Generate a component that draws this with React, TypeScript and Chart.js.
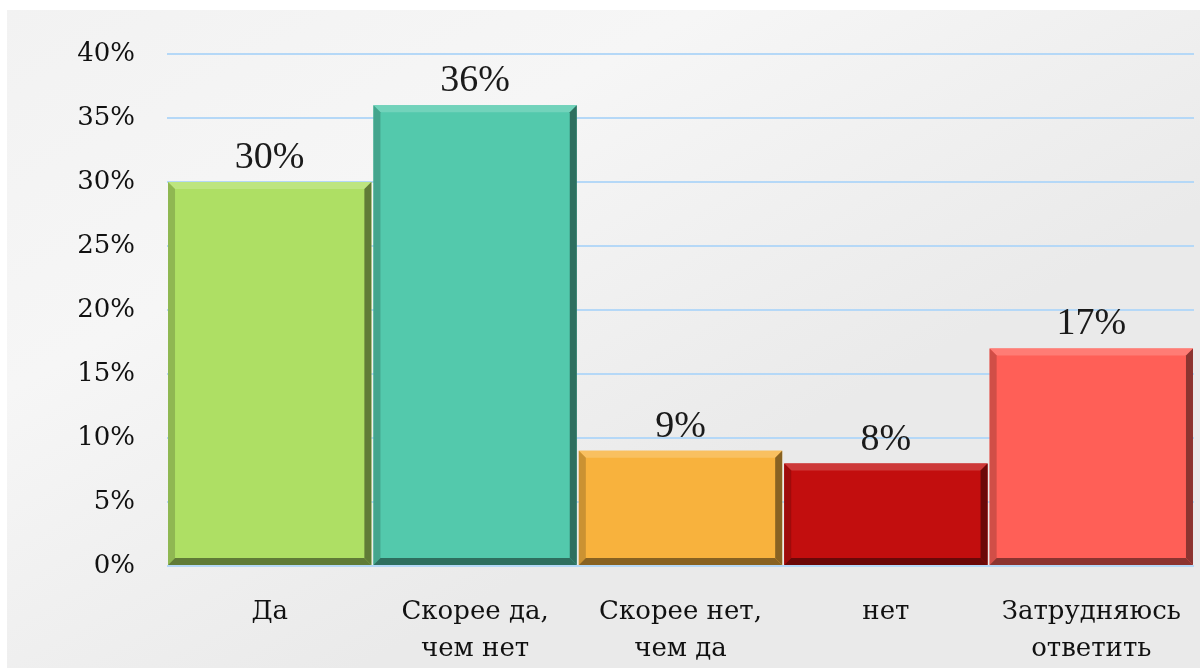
import React, { useEffect, useRef } from "react";
import { Chart, registerables } from "chart.js";

Chart.register(...registerables);

const categories: (string | string[])[] = [
  "Да",
  ["Скорее да,", "чем нет"],
  ["Скорее нет,", "чем да"],
  "нет",
  ["Затрудняюсь", "ответить"],
];
const values = [30, 36, 9, 8, 17];
const barColors = ["#AEDF64", "#53C9AC", "#F8B23D", "#C20E0E", "#FF5F57"];
const yTicks = [0, 5, 10, 15, 20, 25, 30, 35, 40];

function shade(hex: string, f: number): string {
  const n = parseInt(hex.slice(1), 16);
  let r = (n >> 16) & 255, g = (n >> 8) & 255, b = n & 255;
  if (f >= 0) {
    r = r + (255 - r) * f; g = g + (255 - g) * f; b = b + (255 - b) * f;
  } else {
    r = r * (1 + f); g = g * (1 + f); b = b * (1 + f);
  }
  return `rgb(${Math.round(r)},${Math.round(g)},${Math.round(b)})`;
}

const backgroundPlugin = {
  id: "bg",
  beforeDraw(chart: any) {
    const { ctx, width, height } = chart;
    ctx.save();
    ctx.fillStyle = "#ffffff";
    ctx.fillRect(0, 0, width, height);
    const g = ctx.createLinearGradient(0, 10, width * 0.3, height);
    g.addColorStop(0, "#F2F2F2");
    g.addColorStop(0.45, "#F6F6F6");
    g.addColorStop(1, "#EAEAEA");
    ctx.fillStyle = g;
    ctx.fillRect(7, 10, width - 7, height - 10);
    ctx.restore();
  },
};

const bevelPlugin = {
  id: "bevel",
  afterDatasetsDraw(chart: any) {
    const { ctx } = chart;
    const meta = chart.getDatasetMeta(0);
    const b = 7;
    meta.data.forEach((el: any, i: number) => {
      const c = barColors[i];
      const l = el.x - el.width / 2;
      const r = el.x + el.width / 2;
      const t = el.y;
      const bot = el.base;
      const poly = (pts: number[][], col: string) => {
        ctx.beginPath();
        ctx.moveTo(pts[0][0], pts[0][1]);
        for (let k = 1; k < pts.length; k++) ctx.lineTo(pts[k][0], pts[k][1]);
        ctx.closePath();
        ctx.fillStyle = col;
        ctx.fill();
      };
      ctx.save();
      poly([[l, t], [r, t], [r - b, t + b], [l + b, t + b]], shade(c, 0.18));
      poly([[l, t], [l + b, t + b], [l + b, bot - b], [l, bot]], shade(c, -0.18));
      poly([[r, t], [r, bot], [r - b, bot - b], [r - b, t + b]], shade(c, -0.45));
      poly([[l, bot], [r, bot], [r - b, bot - b], [l + b, bot - b]], shade(c, -0.45));
      ctx.restore();
    });
  },
};

const labelPlugin = {
  id: "valueLabels",
  afterDatasetsDraw(chart: any) {
    const { ctx } = chart;
    const meta = chart.getDatasetMeta(0);
    ctx.save();
    ctx.font = "38px 'Liberation Serif'";
    ctx.fillStyle = "#1a1a1a";
    ctx.textAlign = "center";
    ctx.textBaseline = "alphabetic";
    meta.data.forEach((el: any, i: number) => {
      ctx.fillText(values[i] + "%", el.x, el.y - 14);
    });
    ctx.restore();
  },
};

export default function App() {
  const ref = useRef<HTMLCanvasElement>(null);
  useEffect(() => {
    if (!ref.current) return;
    const chart = new Chart(ref.current, {
      type: "bar",
      data: {
        labels: categories,
        datasets: [
          {
            data: values,
            backgroundColor: barColors,
            borderWidth: 0,
            categoryPercentage: 1,
            barPercentage: 0.99,
          },
        ],
      },
      options: {
        responsive: false,
        animation: false,
        layout: { padding: { left: 0, top: 54, right: 6, bottom: 0 } },
        plugins: { legend: { display: false }, tooltip: { enabled: false } },
        scales: {
          x: {
            grid: { display: false },
            border: { display: false },
            ticks: {
              color: "#111111",
              font: { family: "'DejaVu Serif'", size: 26, lineHeight: 1.45 },
              padding: 19,
              maxRotation: 0,
              autoSkip: false,
            },
            afterFit: (s: any) => {
              s.height = 102;
              s.paddingLeft = 0;
              s.paddingRight = 0;
            },
          },
          y: {
            min: yTicks[0],
            max: yTicks[yTicks.length - 1],
            afterBuildTicks: (s: any) => { s.ticks = yTicks.map((v) => ({ value: v })); },
            grid: { color: "#B5D8F7", lineWidth: 2, drawTicks: false },
            border: { display: false },
            ticks: {
              color: "#111111",
              font: { family: "'DejaVu Serif'", size: 26 },
              padding: 32,
              callback: (v: any) => v + "%",
            },
            afterFit: (s: any) => {
              s.width = 167;
              s.paddingTop = 0;
              s.paddingBottom = 0;
            },
          },
        },
      },
      plugins: [backgroundPlugin, bevelPlugin, labelPlugin],
    });
    return () => chart.destroy();
  }, []);
  return (
    <div style={{ position: "absolute", left: 0, top: 0, width: 1200, height: 668 }}>
      <canvas ref={ref} width={1200} height={668} />
    </div>
  );
}
